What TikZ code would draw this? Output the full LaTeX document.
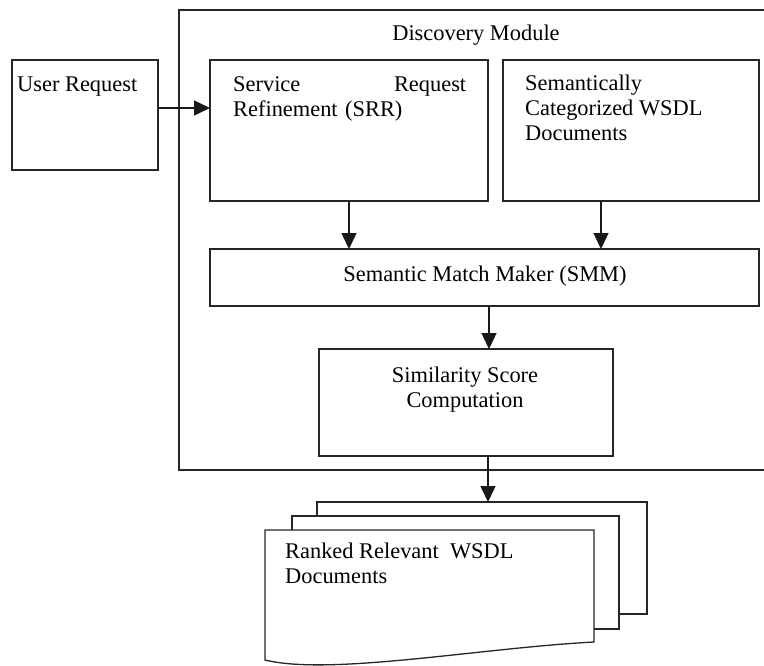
\documentclass[tikz,border=0pt]{standalone}
\usepackage{fontspec}
\setmainfont{Liberation Serif}
\usepackage{tikz}
\usetikzlibrary{positioning, arrows.meta}

\begin{document}
\begin{tikzpicture}[x=1pt, y=-1pt,
                    every node/.style = {text=black, font=\fontsize{22.4}{24.8}\selectfont},
                    box/.style = {draw=black!85, line width=1.3pt, fill=white, anchor=north west, inner sep=0pt, outer sep=0pt},
                    txt/.style = {anchor=base west, inner sep=0pt, align=left},
                    arr/.style = {draw=black!90, line width=1.5pt, -{Triangle[length=16pt, width=15pt]}}]
    \useasboundingbox (0,0) rectangle (764,665);
    % boxes
    \node (disc) [box, minimum width=620pt, minimum height=460pt] at (179,10) {};
    \node (user) [box, minimum width=146pt, minimum height=110pt] at (12,60) {};
    \node (srr) [box, minimum width=278pt, minimum height=141pt] at (210,60) {};
    \node (sem) [box, minimum width=256pt, minimum height=141pt] at (503,60) {};
    \node (smm) [box, minimum width=549pt, minimum height=57pt] at (210,249) {};
    \node (sim) [box, minimum width=294pt, minimum height=107pt] at (319,349) {};
    % stacked documents
    \node (page3) [box, minimum width=330pt, minimum height=112pt] at (317,502) {};
    \node (page2) [box, minimum width=327pt, minimum height=113pt] at (292,516) {};
    \draw [draw=black!85, line width=1.3pt, fill=white]
        (265,530) -- (594,530) -- (594,642)
        .. controls (480,648) and (330,676) .. (265,660) -- cycle;
    % texts (multi-line ones sit on their last baseline)
    \node (disctitle) [anchor=base, inner sep=0pt] at (476,40) {Discovery Module};
    \node (usertxt) [txt] at (17,91) {User Request};
    \node (srrtxt) [txt, text width=233pt] at (233,91.5) {Service\hfill Request\\Refinement (SRR)};
    \node (semtxt) [txt] at (525,140.5) {Semantically\\Categorized WSDL\\Documents};
    \node (smmtxt) [anchor=base, inner sep=0pt] at (485,281) {Semantic Match Maker (SMM)};
    \node (simtxt) [anchor=base, inner sep=0pt, align=center] at (465,407) {Similarity Score\\Computation};
    \node (doctxt) [txt] at (285,583) {Ranked Relevant \ WSDL\\Documents};
    % arrows
    \draw [arr] (user.east |- 0,108) -- (srr.west |- 0,108);
    \draw [arr] (srr.south) -- (srr.south |- smm.north);
    \draw [arr] (sem.south -| 601,0) -- (smm.north -| 601,0);
    \draw [arr] (smm.south -| 489,0) -- (sim.north -| 489,0);
    \draw [arr] (sim.south -| 488,0) -- (page3.north -| 488,0);
\end{tikzpicture}
\end{document}
